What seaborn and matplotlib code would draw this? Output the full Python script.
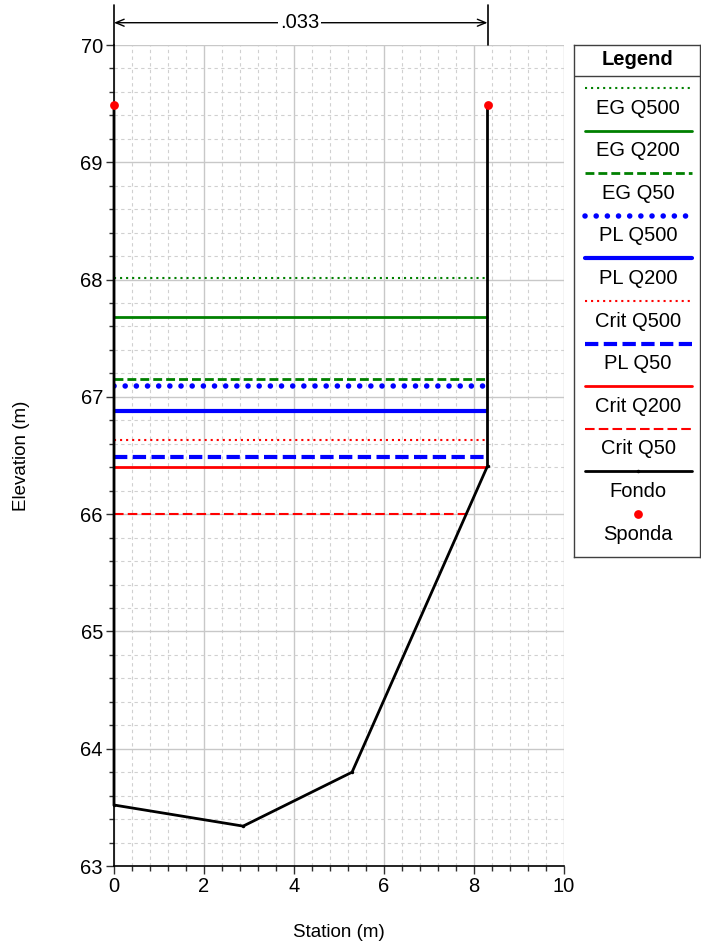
import matplotlib
matplotlib.use("Agg")
import matplotlib.pyplot as plt
import seaborn as sns
import pandas as pd
import numpy as np
from matplotlib.ticker import MultipleLocator
from matplotlib.lines import Line2D

sns.set_style("white")
plt.rcParams['font.family'] = ['Liberation Sans', 'DejaVu Sans']
plt.rcParams['text.color'] = 'black'
plt.rcParams['axes.labelcolor'] = 'black'
plt.rcParams['xtick.color'] = 'black'
plt.rcParams['ytick.color'] = 'black'

# ---- data ----
fondo_x = [0.0, 0.0, 2.87, 5.29, 8.30, 8.30]
fondo_y = [69.49, 63.52, 63.34, 63.80, 66.41, 69.49]
sponda_x = [0.0, 8.30]
sponda_y = [69.49, 69.49]

level_names = ["EG Q500", "EG Q200", "EG Q50", "PL Q500", "PL Q200",
               "Crit Q500", "PL Q50", "Crit Q200", "Crit Q50"]
level_values = [68.01, 67.68, 67.15, 67.09, 66.88, 66.63, 66.49, 66.405, 66.00]
manning_n = ".033"

styles = {
    "EG Q500": dict(color="#008000", ls=(0, (1, 1.9)), lw=1.5),
    "EG Q200": dict(color="#008000", ls="-", lw=2.0),
    "EG Q50": dict(color="#008000", ls=(0, (3.2, 1.45)), lw=2.0),
    "PL Q500": dict(color="#0000FF", ls=(0, (0.01, 2.0)), lw=4.0, dash_capstyle="round"),
    "PL Q200": dict(color="#0000FF", ls="-", lw=3.0),
    "Crit Q500": dict(color="#FF0000", ls=(0, (1, 1.9)), lw=1.5),
    "PL Q50": dict(color="#0000FF", ls=(0, (3.2, 1.3)), lw=3.0),
    "Crit Q200": dict(color="#FF0000", ls="-", lw=2.0),
    "Crit Q50": dict(color="#FF0000", ls=(0, (4.6, 2.0)), lw=1.5),
}


def wet_extent(level):
    """x range where the water level lies above the ground profile"""
    xs = np.array(fondo_x[1:-1])
    ys = np.array(fondo_y[1:-1])
    right = xs[-1]
    for i in range(len(xs) - 1):
        if ys[i] <= level <= ys[i + 1]:
            right = xs[i] + (level - ys[i]) * (xs[i + 1] - xs[i]) / (ys[i + 1] - ys[i])
    return 0.0, right


fig = plt.figure(figsize=(7.01, 9.46), dpi=100)
W, H = 701, 946
ax = fig.add_axes([114 / W, (H - 866) / H, 450 / W, 821 / H])

FS = 14.5

ax.set_xlim(0, 10)
ax.set_ylim(63, 70)
ax.xaxis.set_major_locator(MultipleLocator(2))
ax.xaxis.set_minor_locator(MultipleLocator(0.4))
ax.yaxis.set_major_locator(MultipleLocator(1))
ax.yaxis.set_minor_locator(MultipleLocator(0.2))
ax.grid(which="major", color="#c8c8c8", lw=1.0, ls="-")
ax.grid(which="minor", color="#d0d0d0", lw=0.8, ls=(0, (3, 3)))
ax.set_axisbelow(True)
ax.tick_params(which="major", direction="out", length=6, width=1, color="#303030",
               labelsize=FS, left=True, bottom=True, pad=2)
ax.tick_params(which="minor", direction="out", length=3.5, width=1, color="#303030",
               left=True, bottom=True)
for s in ["top", "right"]:
    ax.spines[s].set_visible(False)
for s in ["left", "bottom"]:
    ax.spines[s].set_color("black")
    ax.spines[s].set_linewidth(1.2)

for name, val in zip(level_names, level_values):
    x0, x1 = wet_extent(val)
    df = pd.DataFrame({"x": [x0, x1], "y": [val, val]})
    st = styles[name]
    sns.lineplot(data=df, x="x", y="y", ax=ax, color=st["color"], lw=st["lw"],
                 linestyle=st["ls"], dash_capstyle=st.get("dash_capstyle", "butt"),
                 solid_capstyle="butt", estimator=None)

df_f = pd.DataFrame({"x": fondo_x, "y": fondo_y})
sns.lineplot(data=df_f, x="x", y="y", ax=ax, sort=False, estimator=None, color="black",
             lw=2.0, marker="o", markersize=2.5, markeredgewidth=0, clip_on=False, zorder=5)
df_s = pd.DataFrame({"x": sponda_x, "y": sponda_y})
sns.scatterplot(data=df_s, x="x", y="y", ax=ax, color="#FF0000", s=40, linewidth=0,
                zorder=6, clip_on=False)

ax.set_xlabel("Station (m)", fontsize=13.5, labelpad=20)
ax.set_ylabel("Elevation (m)", fontsize=13.5, labelpad=36)

# dimension line (Manning's n) above plot
ytop = 70.34
ax.plot([0, 0], [70, ytop], color="black", lw=1.2, clip_on=False)
ax.plot([fondo_x[-1], fondo_x[-1]], [70, ytop], color="black", lw=1.2, clip_on=False)
ydim = 70.19
ax.annotate("", xy=(0, ydim), xytext=(fondo_x[-1], ydim), annotation_clip=False,
            arrowprops=dict(arrowstyle="<->,head_length=0.6,head_width=0.25", color="black",
                            lw=1.0, shrinkA=0, shrinkB=0))
ax.text(fondo_x[-1] / 2 - 0.02, ydim, manning_n, ha="center", va="center", fontsize=FS,
        bbox=dict(facecolor="white", edgecolor="none", pad=1.5), clip_on=False)

# custom legend panel
lx0, lx1, ly0, ly1 = 574, 700, 45, 557
lax = fig.add_axes([lx0 / W, (H - ly1) / H, (lx1 - lx0) / W, (ly1 - ly0) / H])
lax.set_xlim(lx0, lx1)
lax.set_ylim(ly1, ly0)
lax.set_xticks([])
lax.set_yticks([])
for s in lax.spines.values():
    s.set_color("#404040")
    s.set_linewidth(1.0)
lax.set_facecolor("white")
lax.text((lx0 + lx1) / 2, 59, "Legend", ha="center", va="center", fontsize=FS,
         fontweight="bold")
lax.plot([lx0, lx1], [76, 76], color="#404040", lw=1.0)
entry_y0 = 88
step = 42.6
xs_l = [585, 692]
for i, name in enumerate(level_names):
    yy = entry_y0 + i * step
    st = styles[name]
    lax.add_line(Line2D(xs_l, [yy, yy], color=st["color"], lw=st["lw"], linestyle=st["ls"],
                        dash_capstyle=st.get("dash_capstyle", "butt")))
    lax.text(638, yy + 20, name, ha="center", va="center", fontsize=FS)
yy = entry_y0 + 9 * step
lax.add_line(Line2D(xs_l, [yy, yy], color="black", lw=2.0))
lax.plot([638], [yy], "o", color="black", ms=2.5, mew=0)
lax.text(638, yy + 20, "Fondo", ha="center", va="center", fontsize=FS)
yy = entry_y0 + 10 * step
lax.plot([638], [yy], "o", color="#FF0000", ms=6.3, mew=0)
lax.text(638, yy + 20, "Sponda", ha="center", va="center", fontsize=FS)

fig.savefig("out.png", dpi=100)
